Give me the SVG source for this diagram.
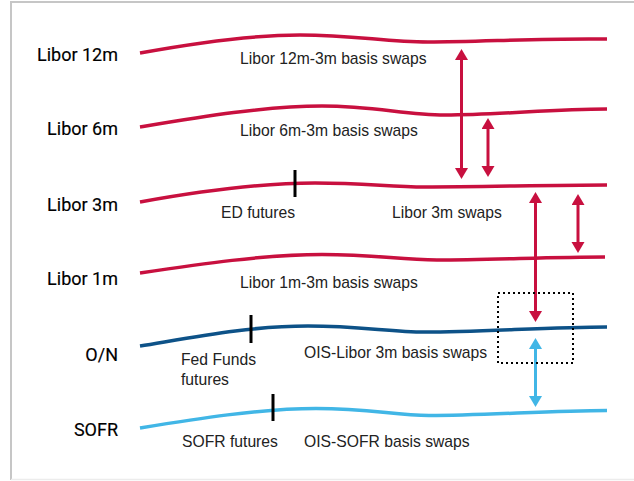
<svg xmlns="http://www.w3.org/2000/svg" width="634" height="481" viewBox="0 0 634 481">
  <style>
    .rate { font-family: Roboto, "Liberation Sans", Arial, sans-serif; font-weight: 400; font-size: 18px; fill: #000; text-anchor: end; stroke: #000; stroke-width: 0.15; }
    .lbl { font-family: "Liberation Sans", Arial, sans-serif; font-size: 15.7px; fill: #222; }
    .curve { fill: none; stroke-width: 3.5; stroke-linecap: butt; }
    .red { stroke: #c8103f; }
    .dark { stroke: #0d5288; }
    .light { stroke: #41b6e6; }
    .tick { stroke: #000; stroke-width: 3; }
    .arr { fill: none; stroke-width: 3; }
  </style>
  <defs>
    <marker id="ahRed" markerUnits="userSpaceOnUse" markerWidth="14" markerHeight="14" refX="3" refY="6.5" orient="auto-start-reverse">
      <path d="M0,0 L11,6.5 L0,13 z" fill="#c8103f"/>
    </marker>
    <marker id="ahBlue" markerUnits="userSpaceOnUse" markerWidth="14" markerHeight="14" refX="3" refY="6.5" orient="auto-start-reverse">
      <path d="M0,0 L11,6.5 L0,13 z" fill="#41b6e6"/>
    </marker>
  </defs>

  <path d="M11,480 V2 H634" fill="none" stroke="#c6c6c6" stroke-width="2"/>
  <line x1="11" y1="479.5" x2="634" y2="479.5" stroke="#ececec" stroke-width="1.5"/>

  <g id="libor12m">
    <path class="curve red" d="M140,53 C195,43 250,35 300,35 C355,35 385,42 428,42 C480,42 540,38 607,39"/>
    <text class="rate" x="118" y="61">Libor 12m</text>
    <text class="lbl" x="240" y="64">Libor 12m-3m basis swaps</text>
  </g>
  <g id="libor6m">
    <path class="curve red" d="M140,127 C200,117 265,106 322,106 C375,106 405,115 445,115 C500,115 550,109 607,109"/>
    <text class="rate" x="118" y="135">Libor 6m</text>
    <text class="lbl" x="240" y="136">Libor 6m-3m basis swaps</text>
  </g>
  <g id="libor3m">
    <path class="curve red" d="M140,202 C195,192 260,183 315,183 C365,183 390,187 425,187 C480,187 550,185 607,185"/>
    <line class="tick" x1="295" y1="170" x2="295" y2="197"/>
    <text class="rate" x="118" y="211">Libor 3m</text>
    <text class="lbl" x="221" y="218">ED futures</text>
    <text class="lbl" x="392" y="218">Libor 3m swaps</text>
  </g>
  <g id="libor1m">
    <path class="curve red" d="M140,273 C200,264 265,254.5 322,254.5 C375,254.5 400,260 437,260 C490,260 550,257 605,257"/>
    <text class="rate" x="118" y="285">Libor 1m</text>
    <text class="lbl" x="240" y="288">Libor 1m-3m basis swaps</text>
  </g>
  <g id="on">
    <path class="curve dark" d="M140,346 C195,337 250,326 308,326 C360,326 390,332 425,332 C480,332 550,327 607,327"/>
    <line class="tick" x1="251" y1="315" x2="251" y2="343"/>
    <text class="rate" x="118" y="361">O/N</text>
    <text class="lbl" x="181" y="365">Fed Funds</text>
    <text class="lbl" x="181" y="385">futures</text>
    <text class="lbl" x="304" y="358">OIS-Libor 3m basis swaps</text>
  </g>
  <g id="sofr">
    <path class="curve light" d="M140,428 C195,419 260,408.5 316,408.5 C370,408.5 395,415.5 429,415.5 C485,415.5 550,410.5 607,410.5"/>
    <line class="tick" x1="273" y1="394" x2="273" y2="421"/>
    <text class="rate" x="118" y="436">SOFR</text>
    <text class="lbl" x="182" y="447">SOFR futures</text>
    <text class="lbl" x="304" y="447">OIS-SOFR basis swaps</text>
  </g>

  <g id="connectors">
    <line class="arr red" x1="461.5" y1="57" x2="461.5" y2="171" marker-start="url(#ahRed)" marker-end="url(#ahRed)"/>
    <line class="arr red" x1="488" y1="126" x2="488" y2="169" marker-start="url(#ahRed)" marker-end="url(#ahRed)"/>
    <line class="arr red" x1="535.5" y1="200" x2="535.5" y2="314" marker-start="url(#ahRed)" marker-end="url(#ahRed)"/>
    <line class="arr red" x1="578" y1="202" x2="578" y2="245" marker-start="url(#ahRed)" marker-end="url(#ahRed)"/>
    <line class="arr light" x1="535.5" y1="346" x2="535.5" y2="399" marker-start="url(#ahBlue)" marker-end="url(#ahBlue)"/>
    <rect x="498" y="293" width="75" height="70" fill="none" stroke="#000" stroke-width="2" stroke-dasharray="2,3"/>
  </g>
</svg>
